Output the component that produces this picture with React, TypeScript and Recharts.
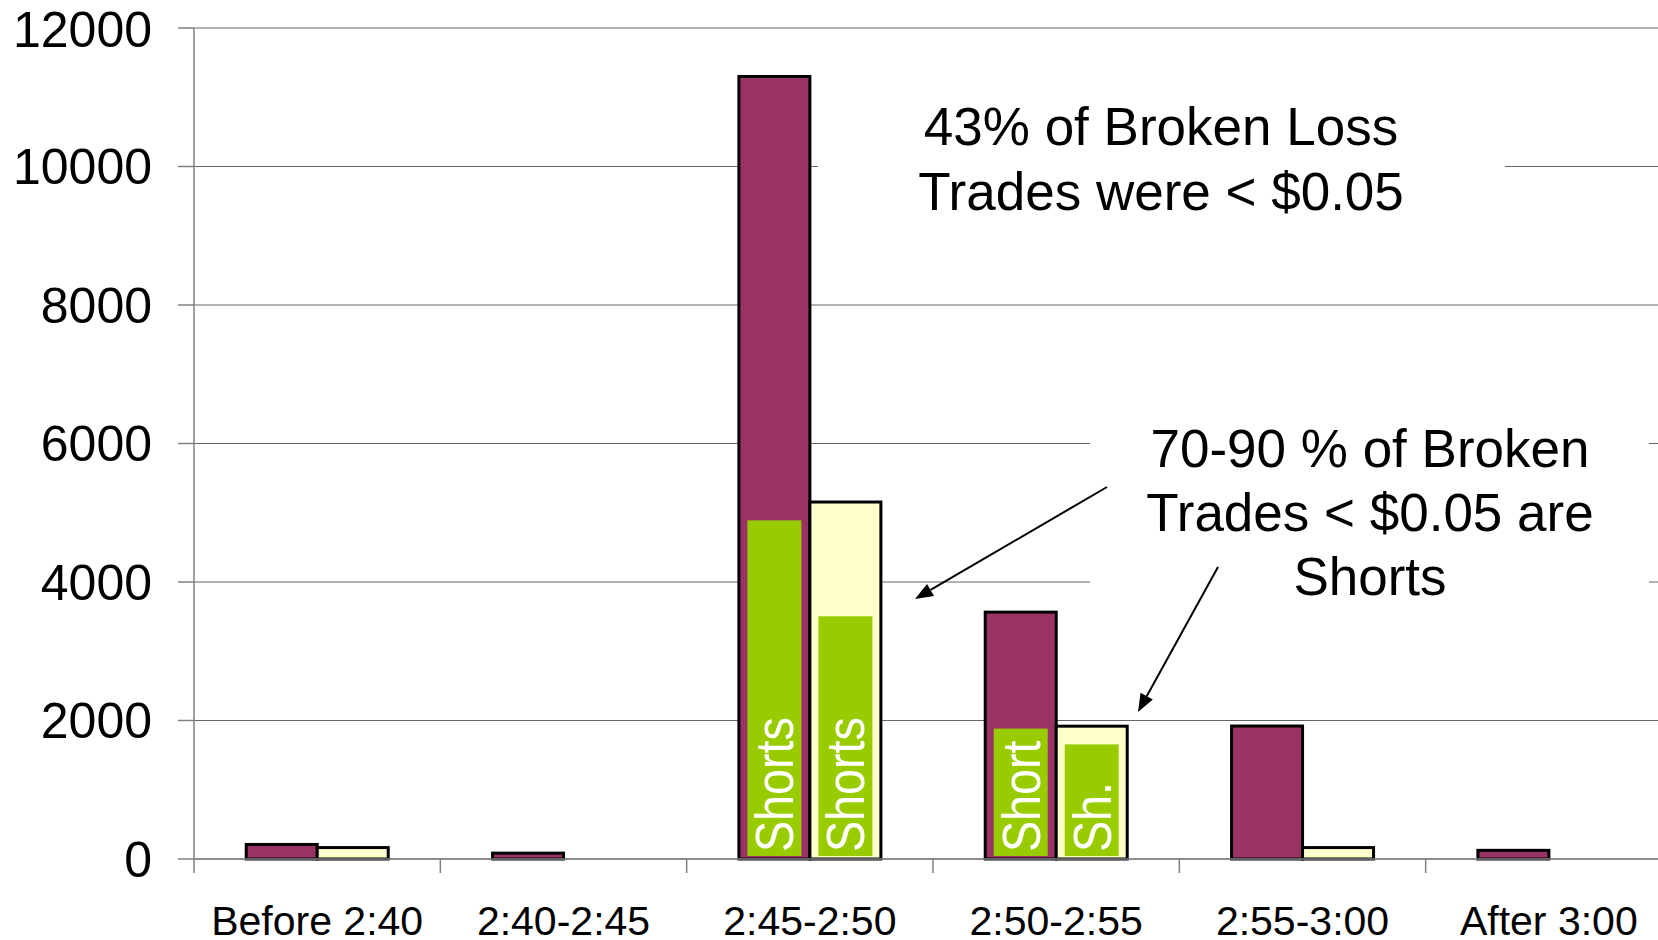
import { BarChart, Bar, XAxis, YAxis, CartesianGrid } from "recharts";

const categories = [
  "Before 2:40",
  "2:40-2:45",
  "2:45-2:50",
  "2:50-2:55",
  "2:55-3:00",
  "After 3:00",
];
// all broken loss trades
const brokenLoss = [210, 85, 11300, 3565, 1920, 125];
// of which shorts
const brokenLossShorts = [0, 0, 4890, 1883, 0, 0];
// broken loss trades < $0.05
const under5c = [165, 0, 5155, 1918, 165, 0];
// of which shorts
const under5cShorts = [0, 0, 3505, 1655, 0, 0];
const lossShortLabels = ["", "", "Shorts", "Short", "", ""];
const under5cShortLabels = ["", "", "Shorts", "Sh.", "", ""];
const yTicks = [0, 2000, 4000, 6000, 8000, 10000, 12000];

const FONT = "'Liberation Sans', Arial, sans-serif";
const PURPLE = "#993366";
const YELLOW = "#FFFFCC";
const GREEN = "#99CC00";
const AXIS = "#808080";

const CHART_W = 1700;
const CHART_H = 940;
const Y_W = 194;
const M_RIGHT = 28;
const X_TICK = 14;
const X_MARGIN = 33;

const data = categories.map((name, i) => ({
  name,
  loss: brokenLoss[i],
  lossShorts: brokenLossShorts[i],
  lossLabel: lossShortLabels[i],
  small: under5c[i],
  smallShorts: under5cShorts[i],
  smallLabel: under5cShortLabels[i],
}));

function makeShape(totalKey: string, shortKey: string, labelKey: string) {
  return (props: any) => {
    const { x, y, width, height, fill, payload } = props;
    if (!height || height <= 0) return <g />;
    const total = payload[totalKey];
    const shorts = payload[shortKey];
    const label = payload[labelKey];
    const bottom = y + height;
    const gh = total > 0 ? (height * shorts) / total : 0;
    const gw = width * 0.76;
    const gx = x + (width - gw) / 2;
    const cx = x + width / 2;
    return (
      <g>
        <rect x={x} y={y} width={width} height={height} fill={fill} stroke="#000" strokeWidth={3} />
        {gh > 0 && <rect x={gx} y={bottom - gh} width={gw} height={gh - 3} fill={GREEN} />}
        {label && (
          <text
            transform={`translate(${cx + 19},${bottom - 7}) rotate(-90) scale(0.88,1)`}
            fill="#fff"
            fontSize={53}
            fontFamily={FONT}
          >
            {label}
          </text>
        )}
      </g>
    );
  };
}

function CategoryTick(props: any) {
  const { x, y, payload } = props;
  const band = (CHART_W - Y_W - M_RIGHT) / categories.length;
  const half = typeof payload.offset === "number" && payload.offset > 0 ? payload.offset : band / 2;
  const axisY = y - X_TICK - X_MARGIN;
  return (
    <g>
      <line x1={x - half} x2={x - half} y1={axisY} y2={axisY + X_TICK} stroke={AXIS} strokeWidth={1.5} />
      <text x={x} y={y} dy="0.71em" textAnchor="middle" fontSize={41} fontFamily={FONT} fill="#000">
        {payload.value}
      </text>
    </g>
  );
}

function Arrow({ x1, y1, x2, y2 }: { x1: number; y1: number; x2: number; y2: number }) {
  const dx = x2 - x1;
  const dy = y2 - y1;
  const len = Math.hypot(dx, dy);
  const ux = dx / len;
  const uy = dy / len;
  const hl = 18;
  const hw = 7;
  const bx = x2 - ux * hl;
  const by = y2 - uy * hl;
  const pts = `${x2},${y2} ${bx - uy * hw},${by + ux * hw} ${bx + uy * hw},${by - ux * hw}`;
  return (
    <g>
      <line x1={x1} y1={y1} x2={bx} y2={by} stroke="#000" strokeWidth={2} />
      <polygon points={pts} fill="#000" />
    </g>
  );
}

function Notes() {
  const t = { fontSize: 53, fontFamily: FONT, fill: "#000", textAnchor: "middle" as const };
  return (
    <svg
      width={1658}
      height={940}
      style={{ position: "absolute", left: 0, top: 0, pointerEvents: "none" }}
    >
      <rect x={818} y={95} width={687} height={130} fill="#fff" />
      <text x={1161} y={145} {...t}>43% of Broken Loss</text>
      <text x={1161} y={210} {...t}>Trades were &lt; $0.05</text>

      <rect x={1090} y={420} width={559} height={185} fill="#fff" />
      <text x={1370} y={467} {...t}>70-90 % of Broken</text>
      <text x={1370} y={531} {...t}>Trades &lt; $0.05 are</text>
      <text x={1370} y={595} {...t}>Shorts</text>

      <Arrow x1={1107} y1={487} x2={915} y2={599} />
      <Arrow x1={1218} y1={567} x2={1138} y2={712} />
    </svg>
  );
}

export default function App() {
  return (
    <div
      style={{
        position: "absolute",
        left: 0,
        top: 0,
        width: 1658,
        height: 940,
        overflow: "hidden",
        background: "#fff",
      }}
    >
      <BarChart
        width={CHART_W}
        height={CHART_H}
        data={data}
        margin={{ top: 28, right: M_RIGHT, bottom: 0, left: 0 }}
        barCategoryGap="21.2%"
        barGap={0}
      >
        <CartesianGrid vertical={false} stroke="#666" strokeWidth={1} />
        <XAxis
          dataKey="name"
          height={81}
          axisLine={{ stroke: AXIS, strokeWidth: 1.5 }}
          tickLine={false}
          tickSize={X_TICK}
          tickMargin={X_MARGIN}
          interval={0}
          tick={<CategoryTick />}
        />
        <YAxis
          width={Y_W}
          domain={[0, 12000]}
          ticks={yTicks}
          axisLine={{ stroke: AXIS, strokeWidth: 1.5 }}
          tickLine={{ stroke: AXIS, strokeWidth: 1.5 }}
          tickSize={16}
          tickMargin={26}
          tick={{ fontSize: 50, fill: "#000", fontFamily: FONT }}
        />
        <Bar
          dataKey="loss"
          name="Broken Loss Trades"
          fill={PURPLE}
          isAnimationActive={false}
          shape={makeShape("loss", "lossShorts", "lossLabel")}
        />
        <Bar
          dataKey="small"
          name="Broken Loss Trades < $0.05"
          fill={YELLOW}
          isAnimationActive={false}
          shape={makeShape("small", "smallShorts", "smallLabel")}
        />
      </BarChart>
      <Notes />
    </div>
  );
}
